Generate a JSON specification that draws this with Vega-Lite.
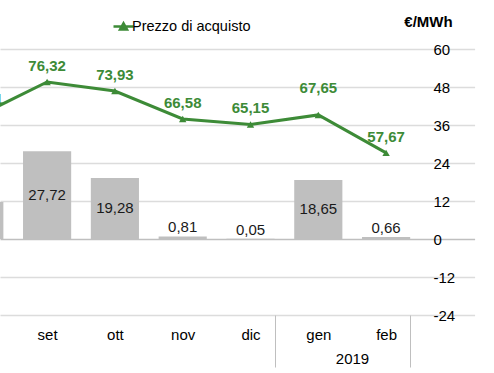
{
  "$schema": "https://vega.github.io/schema/vega-lite/v6.json",
  "width": 420,
  "height": 266,
  "autosize": {"type": "none"},
  "padding": {"left": 0, "top": 49, "right": 74, "bottom": 58},
  "background": "#ffffff",
  "config": {
    "locale": {"number": {"decimal": ",", "thousands": ".", "grouping": [3], "currency": ["€", ""], "minus": "-"}},
    "font": "Liberation Sans",
    "view": {"stroke": null},
    "axis": {"labelFont": "Liberation Sans", "titleFont": "Liberation Sans"},
    "legend": {"labelFont": "Liberation Sans"}
  },
  "data": {
    "values": [
      {"mese": "ago", "quantita": 11.7, "prezzo": 67.51},
      {"mese": "set", "quantita": 27.72, "prezzo": 76.32},
      {"mese": "ott", "quantita": 19.28, "prezzo": 73.93},
      {"mese": "nov", "quantita": 0.81, "prezzo": 66.58},
      {"mese": "dic", "quantita": 0.05, "prezzo": 65.15},
      {"mese": "gen", "quantita": 18.65, "prezzo": 67.65},
      {"mese": "feb", "quantita": 0.66, "prezzo": 57.67}
    ]
  },
  "encoding": {
    "x": {
      "field": "mese",
      "type": "ordinal",
      "sort": null,
      "scale": {"range": [-54.6, 420], "paddingInner": 0.29, "paddingOuter": 0.145},
      "axis": {
        "orient": "bottom",
        "title": "2019",
        "titleX": 352,
        "titleY": 43,
        "titleAlign": "center",
        "titleBaseline": "middle",
        "titleAngle": 0,
        "titleFontSize": 15,
        "titleFontWeight": "normal",
        "titleColor": "#000000",
        "labelAngle": 0,
        "labelFontSize": 15,
        "labelColor": "#000000",
        "labelBaseline": "middle",
        "labelPadding": -33,
        "labelExpr": "datum.value === 'ago' ? '' : datum.label",
        "domain": false,
        "grid": false,
        "ticks": true,
        "tickBand": "extent",
        "tickOffset": 9.9,
        "tickSize": 52,
        "tickColor": "#bfbfbf",
        "tickWidth": 1,
        "tickOpacity": {"condition": {"test": "(datum.value === 'dic' || datum.value === 'feb') && !datum.extra", "value": 1}, "value": 0}
      }
    }
  },
  "layer": [
    {
      "mark": {"type": "bar", "color": "#bfbfbf"},
      "encoding": {
        "y": {
          "field": "quantita",
          "type": "quantitative",
          "scale": {"domain": [-24, 60], "nice": false, "zero": false},
          "axis": {
            "orient": "right",
            "values": [-24, -12, 0, 12, 24, 36, 48, 60],
            "format": "d",
            "labelAlign": "left",
            "labelBaseline": "middle",
            "labelPadding": 13,
            "labelFontSize": 15,
            "labelColor": "#000000",
            "ticks": false,
            "domain": false,
            "grid": true,
            "gridColor": {"condition": {"test": "datum.value === 0", "value": "#bfbfbf"}, "value": "#dcdcdc"},
            "gridWidth": 1.5,
            "title": "€/MWh",
            "titleAngle": 0,
            "titleX": 8,
            "titleY": -28,
            "titleAlign": "center",
            "titleBaseline": "middle",
            "titleFontWeight": "bold",
            "titleFontSize": 15,
            "titleColor": "#000000"
          }
        }
      }
    },
    {
      "transform": [{"filter": "datum.quantita < 5"}],
      "mark": {"type": "text", "dy": -9, "fontSize": 15, "color": "#1a1a1a", "baseline": "middle"},
      "encoding": {
        "y": {"field": "quantita", "type": "quantitative", "scale": {"domain": [-24, 60], "nice": false, "zero": false}, "axis": null},
        "text": {"field": "quantita", "type": "quantitative", "format": ".2f"}
      }
    },
    {
      "transform": [{"filter": "datum.quantita >= 5 && datum.mese !== 'ago'"}],
      "mark": {"type": "text", "fontSize": 15, "color": "#1a1a1a", "baseline": "middle"},
      "encoding": {
        "y": {"field": "quantita", "type": "quantitative", "scale": {"domain": [-48, 120], "nice": false, "zero": false}, "axis": null},
        "text": {"field": "quantita", "type": "quantitative", "format": ".2f"}
      }
    },
    {
      "mark": {"type": "line", "strokeWidth": 3, "point": {"shape": "triangle-up", "filled": true, "size": 55}},
      "encoding": {
        "y": {"field": "prezzo", "type": "quantitative", "scale": {"domain": [15, 85], "nice": false, "zero": false}, "axis": null},
        "color": {
          "datum": "Prezzo di acquisto",
          "scale": {"range": ["#3d8b37"]},
          "legend": {
            "orient": "none",
            "legendX": 112,
            "legendY": -34,
            "title": null,
            "padding": 0,
            "symbolType": "M-1,0H1M-0.35,0.3L0,-0.32L0.35,0.3Z",
            "symbolSize": 400,
            "symbolStrokeWidth": 2.5,
            "symbolFillColor": "#3d8b37",
            "symbolStrokeColor": "#3d8b37",
            "labelFontSize": 14.5,
            "labelColor": "#000000",
            "labelOffset": -3
          }
        }
      }
    },
    {
      "transform": [{"filter": "datum.mese !== 'gen' && datum.mese !== 'ago'"}],
      "mark": {"type": "text", "dy": -16, "fontSize": 15, "fontWeight": "bold", "color": "#3d8b37", "baseline": "middle"},
      "encoding": {
        "y": {"field": "prezzo", "type": "quantitative", "scale": {"domain": [15, 85], "nice": false, "zero": false}, "axis": null},
        "text": {"field": "prezzo", "type": "quantitative", "format": ".2f"}
      }
    },
    {
      "transform": [{"filter": "datum.mese === 'ago'"}],
      "mark": {"type": "text", "dy": -16, "dx": 5, "fontSize": 15, "fontWeight": "bold", "color": "#3d8b37", "baseline": "middle"},
      "encoding": {
        "y": {"field": "prezzo", "type": "quantitative", "scale": {"domain": [15, 85], "nice": false, "zero": false}, "axis": null},
        "text": {"field": "prezzo", "type": "quantitative", "format": ".2f"}
      }
    },
    {
      "transform": [{"filter": "datum.mese === 'gen'"}],
      "mark": {"type": "text", "dy": -27, "fontSize": 15, "fontWeight": "bold", "color": "#3d8b37", "baseline": "middle"},
      "encoding": {
        "y": {"field": "prezzo", "type": "quantitative", "scale": {"domain": [15, 85], "nice": false, "zero": false}, "axis": null},
        "text": {"field": "prezzo", "type": "quantitative", "format": ".2f"}
      }
    }
  ],
  "resolve": {"scale": {"y": "independent"}}
}
